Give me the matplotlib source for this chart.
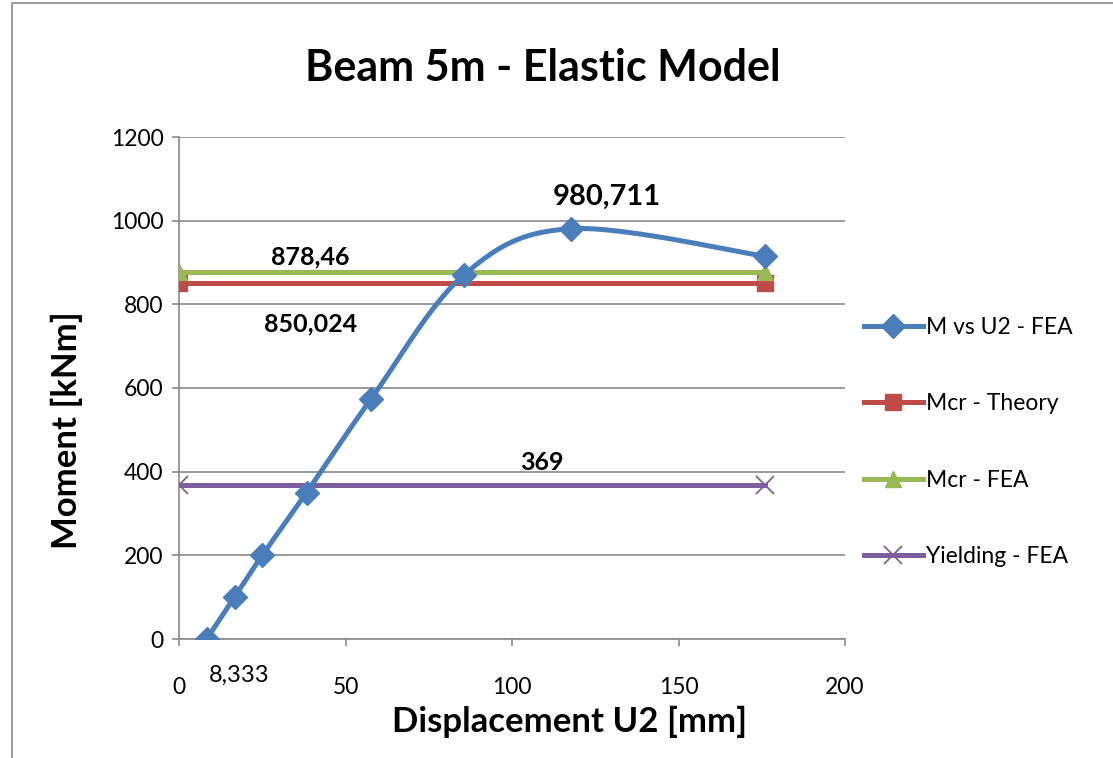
import numpy as np
import matplotlib
matplotlib.use("Agg")
import matplotlib.pyplot as plt
from matplotlib.patches import Rectangle
from matplotlib.lines import Line2D

# ---- data ----
u2 = [8.333, 16.667, 25.0, 38.3, 57.7, 85.5, 117.6, 176.0]
moment = [0, 100, 200, 350, 574, 870, 980.711, 915]
line_x = [0, 176.0]
mcr_theory = [850.024, 850.024]
mcr_fea = [878.46, 878.46]
yielding = [369, 369]
xticks = [0, 50, 100, 150, 200]
yticks = [0, 200, 400, 600, 800, 1000, 1200]

BLUE = "#4A7EBB"
RED = "#BE4B48"
GREEN = "#98B954"
PURPLE = "#7D5FA0"
GRID = "#898989"

plt.rcParams['font.family'] = ['Lato', 'DejaVu Sans']

W, H = 1113, 758
fig = plt.figure(figsize=(W/100, H/100), dpi=100)
fig.patches.append(Rectangle((12/W, -0.01), 1.2, 1 - 3/H + 0.01, transform=fig.transFigure,
                             fill=False, edgecolor="#8C8C8C", linewidth=1.2))
ax = fig.add_axes([179/W, 1 - 639/H, (845 - 179)/W, (639 - 137)/H])


def smooth(xs, ys, n=30, t=1/6):
    xs = np.asarray(xs, float); ys = np.asarray(ys, float)
    px = np.concatenate([[xs[0]], xs, [xs[-1]]])
    py = np.concatenate([[ys[0]], ys, [ys[-1]]])
    outx, outy = [], []
    for i in range(1, len(px) - 2):
        p0 = np.array([px[i], py[i]]); p3 = np.array([px[i+1], py[i+1]])
        c1 = p0 + t * (np.array([px[i+1], py[i+1]]) - np.array([px[i-1], py[i-1]]))
        c2 = p3 - t * (np.array([px[i+2], py[i+2]]) - np.array([px[i], py[i]]))
        s = np.linspace(0, 1, n)[:, None]
        b = (1-s)**3*p0 + 3*(1-s)**2*s*c1 + 3*(1-s)*s**2*c2 + s**3*p3
        outx.extend(b[:, 0]); outy.extend(b[:, 1])
    return outx, outy


MS = 12
sx, sy = smooth(u2, moment)
ax.plot(sx, sy, color=BLUE, lw=3.6, solid_capstyle='round', zorder=5)
ax.plot(u2, moment, linestyle='none', marker='D', markersize=MS, color=BLUE, zorder=6)

ax.plot(line_x, mcr_theory, color=RED, lw=3.6, marker='s', markersize=MS, zorder=3)
ax.plot(line_x, mcr_fea, color=GREEN, lw=3.6, marker='^', markersize=MS, zorder=4)
ax.plot(line_x, yielding, color=PURPLE, lw=3.6, marker='x', markersize=13, markeredgewidth=1.3, zorder=4)

ax.set_xlim(0, 200)
ax.set_ylim(0, 1200)
ax.set_xticks(xticks)
ax.set_yticks(yticks)
ax.tick_params(axis='both', labelsize=16.5, color=GRID, length=5, width=1.2, direction='out')
ax.tick_params(axis='x', pad=22)
ax.tick_params(axis='y', pad=6)
ax.grid(axis='y', color=GRID, lw=1.2)
ax.set_axisbelow(True)
for s in ['top', 'right']:
    ax.spines[s].set_visible(False)
for s in ['left', 'bottom']:
    ax.spines[s].set_color(GRID)
    ax.spines[s].set_linewidth(1.2)
ax.set_facecolor('none')

# data labels
ax.text(39.5, 913, "878,46", fontsize=18, fontweight='bold', ha='center', va='center')
ax.text(39.5, 752, "850,024", fontsize=18, fontweight='bold', ha='center', va='center')
ax.text(128.5, 1058, "980,711", fontsize=21, fontweight='bold', ha='center', va='center')
ax.text(109, 423, "369", fontsize=18, fontweight='bold', ha='center', va='center')
ax.text(18, -88, "8,333", fontsize=17, ha='center', va='center')

fig.text(543/W, 1 - 68/H, "Beam 5m - Elastic Model", fontsize=31, fontweight='bold',
         ha='center', va='center')
fig.text(570/W, 1 - 722/H, "Displacement U2 [mm]", fontsize=25, fontweight='bold',
         ha='center', va='center')
fig.text(67/W, 1 - 430/H, "Moment [kNm]", fontsize=25, fontweight='bold',
         ha='center', va='center', rotation=90)

handles = [
    Line2D([], [], color=BLUE, lw=3.6, marker='D', markersize=MS),
    Line2D([], [], color=RED, lw=3.6, marker='s', markersize=MS),
    Line2D([], [], color=GREEN, lw=3.6, marker='^', markersize=MS),
    Line2D([], [], color=PURPLE, lw=3.6, marker='x', markersize=13, markeredgewidth=1.3),
]
labels = ["M vs U2 - FEA", "Mcr - Theory", "Mcr - FEA", "Yielding - FEA"]
fig.legend(handles, labels, loc='center left', bbox_to_anchor=(843/W, 1 - 442/H),
           frameon=False, fontsize=16.5, handlelength=2.6, handletextpad=0.1,
           labelspacing=2.42)

fig.savefig("out.png", dpi=100)
